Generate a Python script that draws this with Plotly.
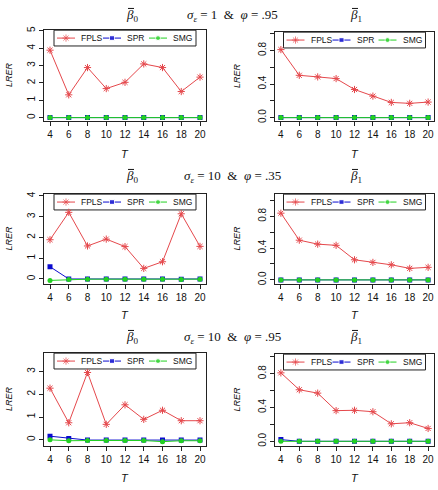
import plotly.graph_objects as go

# ---------------- data ----------------
T = [4, 6, 8, 10, 12, 14, 16, 18, 20]

# sigma_e = 1 & phi = .95
fpls_b0_r1 = [3.88, 1.31, 2.88, 1.67, 2.03, 3.09, 2.88, 1.50, 2.33]
spr_b0_r1 = [0, 0, 0, 0, 0, 0, 0, 0, 0]
smg_b0_r1 = [0, 0, 0, 0, 0, 0, 0, 0, 0]
fpls_b1_r1 = [0.81, 0.504, 0.485, 0.465, 0.335, 0.256, 0.181, 0.170, 0.185]
spr_b1_r1 = [0, 0, 0, 0, 0, 0, 0, 0, 0]
smg_b1_r1 = [0, 0, 0, 0, 0, 0, 0, 0, 0]

# sigma_e = 10 & phi = .35
fpls_b0_r2 = [1.89, 3.21, 1.59, 1.92, 1.56, 0.51, 0.83, 3.14, 1.57]
spr_b0_r2 = [0.59, 0.0, 0.0, 0.0, 0.0, 0.0, 0.0, -0.01, 0.0]
smg_b0_r2 = [-0.07, -0.03, -0.01, -0.01, -0.01, -0.01, -0.01, -0.02, -0.01]
fpls_b1_r2 = [0.84, 0.50, 0.45, 0.435, 0.253, 0.22, 0.19, 0.145, 0.158]
spr_b1_r2 = [0, 0, 0, 0, 0, 0, 0, 0, 0]
smg_b1_r2 = [0, 0, 0, 0, 0, 0, 0, 0, 0]

# sigma_e = 10 & phi = .95
fpls_b0_r3 = [2.27, 0.75, 2.96, 0.68, 1.54, 0.90, 1.30, 0.84, 0.84]
spr_b0_r3 = [0.16, 0.06, -0.01, -0.01, -0.01, -0.01, -0.01, -0.01, -0.01]
smg_b0_r3 = [0.0, -0.04, -0.03, -0.03, -0.03, -0.03, -0.08, -0.04, -0.04]
fpls_b1_r3 = [0.81, 0.61, 0.57, 0.363, 0.367, 0.35, 0.207, 0.22, 0.152]
spr_b1_r3 = [0.02, 0.0, 0, 0, 0, 0, 0, 0, 0]
smg_b1_r3 = [0, 0, 0, 0, 0, 0, 0, 0, 0]

series_names = ["FPLS", "SPR", "SMG"]
row_titles = ["<i>σ</i><sub><i>ε</i></sub> = 1  &amp;  <i>φ</i> = .95",
              "<i>σ</i><sub><i>ε</i></sub> = 10  &amp;  <i>φ</i> = .35",
              "<i>σ</i><sub><i>ε</i></sub> = 10  &amp;  <i>φ</i> = .95"]
coef_titles = ["<i>β</i><sub>0</sub>", "<i>β</i><sub>1</sub>"]
left_ticks = [[0, 1, 2, 3, 4, 5], [0, 1, 2, 3, 4], [0, 1, 2, 3]]
right_ticks = [0.0, 0.2, 0.4, 0.6, 0.8, 1.0]
right_ticktext = ["0.0", "", "0.4", "", "0.8", ""]

panel_data = [
    (fpls_b0_r1, spr_b0_r1, smg_b0_r1),
    (fpls_b1_r1, spr_b1_r1, smg_b1_r1),
    (fpls_b0_r2, spr_b0_r2, smg_b0_r2),
    (fpls_b1_r2, spr_b1_r2, smg_b1_r2),
    (fpls_b0_r3, spr_b0_r3, smg_b0_r3),
    (fpls_b1_r3, spr_b1_r3, smg_b1_r3),
]

# ---------------- layout geometry (pixels) ----------------
W, H = 438, 490
geom = [  # left, right, top, bottom
    (44, 206, 26, 118), (275, 434, 28, 118),
    (44, 206, 192, 283), (275, 434, 192, 283),
    (44, 206, 353, 447), (275, 434, 354, 447),
]
yranges = [[-0.17, 5.06], [-0.035, 1.024],
           [-0.22, 4.11], [-0.046, 1.086],
           [-0.25, 3.83], [-0.05, 1.037]]
xrange_ = [3.36, 20.64]

RED = "#E5484C"
BLUE = "#0A0ACF"
GREEN = "#22D022"
AX = "#222222"
SANS = "Liberation Sans, Arial, sans-serif"
SERIF = "Liberation Serif, Times New Roman, serif"

styles = [
    dict(color=RED, symbol="asterisk-open", size=6),
    dict(color=BLUE, symbol="square", size=5),
    dict(color=GREEN, symbol="circle", size=5),
]

fig = go.Figure()
shapes, annots = [], []


def px2x(i, px):
    l, r, t, b = geom[i]
    return xrange_[0] + (px - l) / (r - l) * (xrange_[1] - xrange_[0])


def py2y(i, py):
    l, r, t, b = geom[i]
    y0, y1 = yranges[i]
    return y1 - (py - t) / (b - t) * (y1 - y0)


def note(x, y, text, size, family=SANS, xanchor="center", angle=0):
    return dict(x=x / W, y=1 - y / H, xref="paper", yref="paper", text=text,
                showarrow=False, xanchor=xanchor, yanchor="middle",
                textangle=angle,
                font=dict(family=family, size=size, color="#111"))


for i in range(6):
    k = i + 1
    xa = "x" if k == 1 else f"x{k}"
    ya = "y" if k == 1 else f"y{k}"
    l, r, t, b = geom[i]
    for s, (vals, st) in enumerate(zip(panel_data[i], styles)):
        mk = dict(color=st["color"], symbol=st["symbol"], size=st["size"])
        if st["symbol"] == "asterisk-open":
            mk["line"] = dict(color=st["color"], width=1)
        fig.add_trace(go.Scatter(
            x=T, y=vals, mode="lines+markers", xaxis=xa, yaxis=ya,
            line=dict(color=st["color"], width=1), marker=mk,
            showlegend=False))

    # manual legend (R-style, top centre)
    cx = (l + r) / 2
    L = cx - 71
    top = t + 0.5
    shapes.append(dict(type="rect", xref="paper", yref="paper",
                       x0=L / W, x1=(L + 142) / W,
                       y0=1 - (top + 16) / H, y1=1 - top / H,
                       line=dict(color=AX, width=1), fillcolor="white",
                       layer="below"))
    ymid = top + 8
    for s, st in enumerate(styles):
        a = L + 3 + 46 * s
        m = L + 12 + 46 * s
        e = L + 21 + 46 * s
        mk = dict(color=st["color"], symbol=st["symbol"],
                  size=[0, st["size"], 0])
        if st["symbol"] == "asterisk-open":
            mk["line"] = dict(color=st["color"], width=1)
        fig.add_trace(go.Scatter(
            x=[px2x(i, a), px2x(i, m), px2x(i, e)],
            y=[py2y(i, ymid)] * 3, mode="lines+markers",
            xaxis=xa, yaxis=ya, line=dict(color=st["color"], width=1),
            marker=mk, showlegend=False, hoverinfo="skip"))
        annots.append(note(L + 25 + 46 * s, ymid, series_names[s], 8.5,
                           xanchor="left"))

    # axes
    left_col = (i % 2 == 0)
    row = i // 2
    xkey = "xaxis" if k == 1 else f"xaxis{k}"
    ykey = "yaxis" if k == 1 else f"yaxis{k}"
    fig.layout[xkey] = dict(
        domain=[l / W, r / W], range=xrange_, anchor=ya,
        tickvals=T, ticktext=[str(v) for v in T],
        showline=True, mirror=True, linecolor=AX, linewidth=1,
        ticks="outside", ticklen=4, tickcolor=AX, showgrid=False,
        zeroline=False, tickfont=dict(family=SANS, size=10, color="#111"))
    if left_col:
        tv = left_ticks[row]
        tt = [str(v) for v in tv]
    else:
        tv = right_ticks
        tt = right_ticktext
    fig.layout[ykey] = dict(
        domain=[1 - b / H, 1 - t / H], range=yranges[i], anchor=xa,
        tickvals=tv, ticktext=tt, tickangle=-90,
        showline=True, mirror=True, linecolor=AX, linewidth=1,
        ticks="outside", ticklen=4, tickcolor=AX, showgrid=False,
        zeroline=False, tickfont=dict(family=SANS, size=10, color="#111"))

    # axis titles
    xt_y = [152, 315, 480][row]
    annots.append(note(cx, xt_y, "<i>T</i>", 11))
    yl_x = 9 if left_col else 237
    annots.append(note(yl_x, (t + b) / 2, "<i>LRER</i>", 9, angle=-90))

# row titles (beta with an overbar)
for row in range(3):
    ty = [12, 175, 338][row]
    for cxp, txt in ((132, coef_titles[0]), (356, coef_titles[1])):
        annots.append(note(cxp, ty, txt, 13, family=SERIF))
        shapes.append(dict(type="line", xref="paper", yref="paper",
                           x0=(cxp - 4) / W, x1=(cxp + 2) / W,
                           y0=1 - (ty - 7.5) / H, y1=1 - (ty - 7.5) / H,
                           line=dict(color="#111", width=1)))
    annots.append(note(232, ty, row_titles[row], 13, family=SERIF))

fig.update_layout(width=W, height=H, autosize=False,
                  margin=dict(l=0, r=0, t=0, b=0),
                  paper_bgcolor="white", plot_bgcolor="white",
                  shapes=shapes, annotations=annots, showlegend=False)

fig.write_html("out.html")
